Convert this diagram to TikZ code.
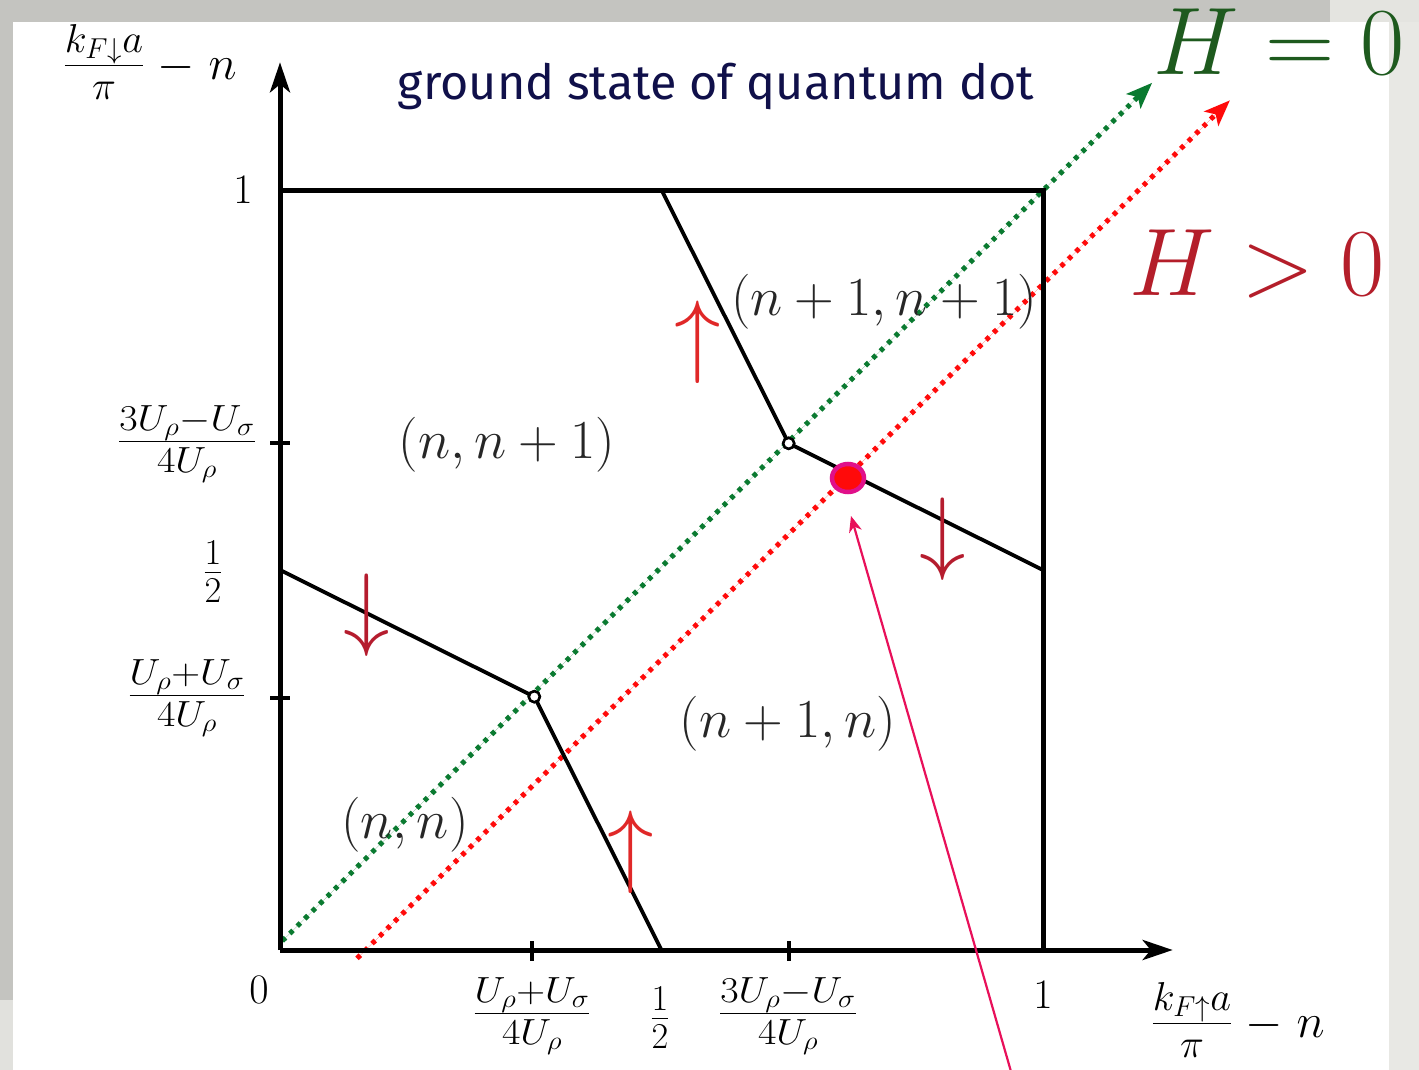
\RequirePackage{fix-cm}
\documentclass[tikz,border=0pt]{standalone}
\usepackage{fontspec}
\newfontfamily\titlefont{Fira Sans}
\usetikzlibrary{arrows.meta,shapes.geometric}
\definecolor{bggrey}{HTML}{C4C4C0}
\definecolor{bglight}{HTML}{E8E8E4}
\definecolor{titleblue}{HTML}{10104A}
\definecolor{hgreen}{HTML}{1E5A1E}
\definecolor{hred}{HTML}{B41E2A}
\definecolor{dotgreen}{HTML}{0A7A30}
\definecolor{dotred}{HTML}{FF0A0A}
\definecolor{arrbright}{HTML}{E02828}
\definecolor{arrdark}{HTML}{B51C2E}
\definecolor{pinkline}{HTML}{E8105A}
\definecolor{ringmag}{HTML}{E0108A}
\newcommand{\wfrac}[2]{\scalebox{1.1}[1]{$\frac{#1}{#2}$}}
\tikzset{
  axisline/.style={line width=5pt, -{Stealth[length=30pt,width=20pt,inset=8pt]}},
  boxline/.style={line width=5pt},
  bound/.style={line width=3.8pt},
  tickmark/.style={line width=3.8pt},
  dotline/.style={line width=5pt, dash pattern=on 4.5pt off 6pt,
     -{Stealth[length=26pt,width=20pt,inset=6pt,sep=0pt]}},
  ticklab/.style={font=\fontsize{42}{42}\selectfont, inner sep=0pt},
  fraclab/.style={font=\fontsize{52}{52}\selectfont, inner sep=0pt},
  axislab/.style={font=\fontsize{48}{48}\selectfont, inner sep=0pt},
  region/.style={font=\fontsize{55}{55}\selectfont, inner sep=0pt, text=black!85},
  spinarrow/.style={font=\fontsize{93}{93}\selectfont, inner sep=0pt},
  hlab/.style={font=\fontsize{96}{96}\selectfont, inner sep=0pt, anchor=base},
  opencirc/.style={circle, draw=black, fill=white, line width=2.5pt, minimum size=11pt, inner sep=0pt}
}
\begin{document}
\begin{tikzpicture}[x=1pt,y=-1pt]
\useasboundingbox (0,0) rectangle (1419,1070);
% background
\fill[bggrey] (0,0) rectangle (1419,1070);
\fill[bglight] (1389,22) rectangle (1419,1070);
\fill[bglight!90!bggrey] (1330,0) rectangle (1419,22);
\fill[bglight!80!bggrey] (0,1000) rectangle (13,1070);
\fill[white] (13,22) rectangle (1389,1070);

\begin{scope}[shift={(280,950)},x=763pt,y=760pt]
  \coordinate (O) at (0,0);
  \coordinate (X1) at (1,0);
  \coordinate (Y1) at (0,1);
  \coordinate (C) at (1,1);
  \coordinate (L0) at (0,0.5);
  \coordinate (L1) at (0.5,0);
  \coordinate (U0) at (0.5,1);
  \coordinate (U1) at (1,0.5);
  \coordinate (Xend) at (1.17,0);
  \coordinate (Yend) at (0,1.168);
  \coordinate (G0) at (0.003,0.012);
  \coordinate (G1) at (1.143,1.141);
  \coordinate (R0) at (0.101,-0.011);
  \coordinate (R1) at (1.245,1.118);
  \node[opencirc] (A) at (1/3,1/3) {};
  \node[opencirc] (B) at (2/3,2/3) {};
\end{scope}

% dotted H lines (under the black lines)
\draw[dotline, draw=dotgreen, fill=dotgreen] (G0) -- (G1);
\draw[dotline, draw=dotred, fill=dotred] (R0) -- (R1);

% box and axes
\draw[boxline] (Y1) -- (C) -- (X1);
\draw[axisline] (O) -- (Yend);
\draw[axisline] (O) -- (Xend);

% phase boundaries
\draw[bound, line join=round] (L0) -- (A.center) -- (L1);
\draw[bound, line join=round] (U0) -- (B.center) -- (U1);
\node[opencirc] at (A) {};
\node[opencirc] at (B) {};

% ticks
\draw[tickmark] (532,941) -- (532,961);
\draw[tickmark] (789,941) -- (789,961);
\draw[tickmark] (270,443) -- (290,443);
\draw[tickmark] (270,698) -- (290,698);

% tick labels
\node[ticklab] (t1y) at (243,190) {$1$};
\node[ticklab] (t0) at (259,990) {$0$};
\node[ticklab] (t1x) at (1043,995) {$1$};
\node[fraclab] (fy3) at (187,444) {\wfrac{3U_\rho-U_\sigma}{4U_\rho}};
\node[fraclab] (fyh) at (213,572) {$\frac{1}{2}$};
\node[fraclab] (fy1) at (187,698) {\wfrac{U_\rho+U_\sigma}{4U_\rho}};
\node[fraclab] (fx1) at (532,1016) {\wfrac{U_\rho+U_\sigma}{4U_\rho}};
\node[fraclab] (fxh) at (660,1018) {$\frac{1}{2}$};
\node[fraclab] (fx3) at (788,1016) {\wfrac{3U_\rho-U_\sigma}{4U_\rho}};

% axis labels
\node[axislab] (ylab) at (150,62) {\scalebox{1.2}{$\frac{k_{F\downarrow}a}{\pi}$}$\;-\;n$};
\node[axislab] (xlab) at (1238,1020) {\scalebox{1.2}{$\frac{k_{F\uparrow}a}{\pi}$}$\;-\;n$};

% title
\node[font=\titlefont\fontsize{48.5}{48.5}\selectfont, text=titleblue, anchor=base, inner sep=0pt] (title) at (716,100) {ground state of quantum dot};

% region labels
\node[region] (nn1) at (507,445) {$(n,n+1)$};
\node[region] (n1n) at (788,724) {$(n+1,n)$};
\node[region] (nn) at (405,825) {$(n,n)$};
\node[region] (n1n1) at (884,302) {$(n+1,n+1)$};

% spin arrows
\node[spinarrow, text=arrbright] (up1) at (698,342) {$\uparrow$};
\node[spinarrow, text=arrbright] (up2) at (631,852) {$\uparrow$};
\node[spinarrow, text=arrdark] (dn1) at (367,615) {$\downarrow$};
\node[spinarrow, text=arrdark] (dn2) at (943,539) {$\downarrow$};

% H labels
\node[hlab, text=hgreen] (h0) at (1279,75) {$H=0$};
\node[hlab, text=hred] (hp) at (1257,295) {$H>0$};

% marked point and pointer
\node[ellipse, draw=ringmag, fill=dotred, line width=4.5pt, minimum width=32pt, minimum height=28pt, inner sep=0pt] (P) at (848,478) {};
\coordinate (ptail) at (1012,1075);
\coordinate (ptip) at (851,516);
\draw[pinkline, line width=2.2pt, -{Stealth[length=16pt,width=13pt,inset=5pt]}] (ptail) -- (ptip);
\end{tikzpicture}
\end{document}
